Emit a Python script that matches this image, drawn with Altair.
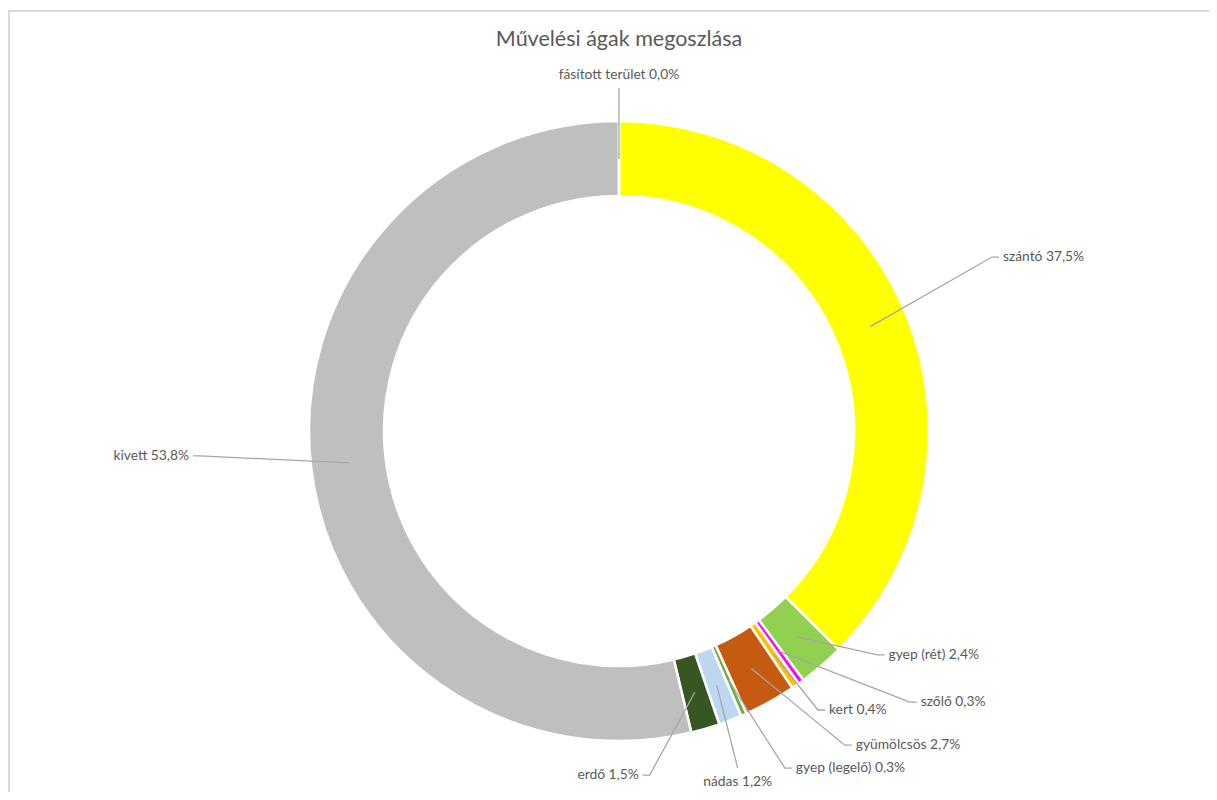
import math
import altair as alt
import pandas as pd

# ---- data ----
categories = ["szántó", "gyep (rét)", "szőlő", "kert", "gyümölcsös",
              "gyep (legelő)", "nádas", "erdő", "kivett", "fásított terület"]
values = [37.5, 2.4, 0.3, 0.4, 2.7, 0.3, 1.2, 1.5, 53.8, 0.0]
value_labels = ["37,5%", "2,4%", "0,3%", "0,4%", "2,7%", "0,3%", "1,2%", "1,5%", "53,8%", "0,0%"]
colors = ["#FFFF00", "#92D050", "#FF00FF", "#FFC000", "#C55A11",
          "#70AD47", "#BDD7EE", "#375623", "#BFBFBF", "#00B050"]

# ---- layout (label placement, polar around the donut centre) ----
W, H = 1201, 784
CX, CY = 611, 423
R_IN, R_OUT = 235, 310
R_LEAD = 272
label_angle = [65.0, 130.9, 133.0, 144.5, 144.3, 153.8, 160.6, 174.9, 266.6, 0.0]
label_radius = [411.6, 342, 397.6, 342.7, 386.9, 375.7, 357.4, 345.4, 419.7, 343]
label_side = ["right", "right", "right", "right", "right", "right", "below", "left", "left", "above"]
FONT = "Lato"
TXT = "#595959"


def polar(a_deg, r):
    a = math.radians(a_deg)
    return CX + r * math.sin(a), CY - r * math.cos(a)


total = sum(values)
arc_df = pd.DataFrame({"category": categories, "value": values, "idx": range(len(values))})

line_rows, text_rows = [], []
cum = 0.0
for i, (c, v) in enumerate(zip(categories, values)):
    mid = (cum + v / 2) / total * 360
    cum += v
    x0, y0 = polar(mid, R_LEAD)
    x1, y1 = polar(label_angle[i], label_radius[i])
    side = label_side[i]
    pts = [(x0, y0), (x1, y1)]
    if side == "right":
        pts.append((x1 + 7, y1))
        tx, ty = x1 + 11, y1
    elif side == "left":
        pts.append((x1 - 7, y1))
        tx, ty = x1 - 11, y1
    elif side == "below":
        tx, ty = x1, y1 + 14
    else:
        tx, ty = x1, y1 - 13
    for k, (px, py) in enumerate(pts):
        line_rows.append({"category": c, "k": k, "px": px, "py": py})
    text_rows.append({"category": c, "label": f"{c} {value_labels[i]}", "tx": tx, "ty": ty, "side": side})

line_df = pd.DataFrame(line_rows)
text_df = pd.DataFrame(text_rows)

arcs = alt.Chart(arc_df).mark_arc(
    innerRadius=R_IN, outerRadius=R_OUT, stroke="white", strokeWidth=2.5
).encode(
    theta=alt.Theta("value:Q", stack=True),
    color=alt.Color("category:N", scale=alt.Scale(domain=categories, range=colors), legend=None),
    order=alt.Order("idx:Q"),
    x=alt.value(CX),
    y=alt.value(CY),
)

leaders = alt.Chart(line_df).mark_line(color="#A6A6A6", strokeWidth=1.3).encode(
    x=alt.X("px:Q", scale=None, axis=None),
    y=alt.Y("py:Q", scale=None, axis=None),
    detail="category:N",
    order="k:Q",
)


def text_layer(sides, align):
    return alt.Chart(text_df).transform_filter(
        alt.FieldOneOfPredicate(field="side", oneOf=sides)
    ).mark_text(align=align, baseline="middle", font=FONT, fontSize=13.8, color=TXT).encode(
        x=alt.X("tx:Q", scale=None, axis=None),
        y=alt.Y("ty:Q", scale=None, axis=None),
        text="label:N",
    )


labels = text_layer(["right"], "left") + text_layer(["left"], "right") + text_layer(["below", "above"], "center")

title = alt.Chart(pd.DataFrame({"t": ["Művelési ágak megoszlása"]})).mark_text(
    align="center", baseline="middle", font=FONT, fontSize=21.5, color=TXT
).encode(x=alt.value(CX), y=alt.value(32), text="t:N")

border_top = alt.Chart(pd.DataFrame({"a": [0]})).mark_rule(color="#D9D9D9", strokeWidth=2).encode(
    x=alt.value(0), x2=alt.value(W), y=alt.value(3)
)
border_left = alt.Chart(pd.DataFrame({"a": [0]})).mark_rule(color="#D9D9D9", strokeWidth=2).encode(
    x=alt.value(1), y=alt.value(2), y2=alt.value(H)
)

chart = alt.layer(border_top, border_left, arcs, leaders, labels, title).properties(
    width=W, height=H, padding=0, autosize=alt.AutoSizeParams(type="none"), background="white"
).configure_view(stroke=None)

chart.save("out.html", embed_options={"renderer": "svg", "actions": False})
